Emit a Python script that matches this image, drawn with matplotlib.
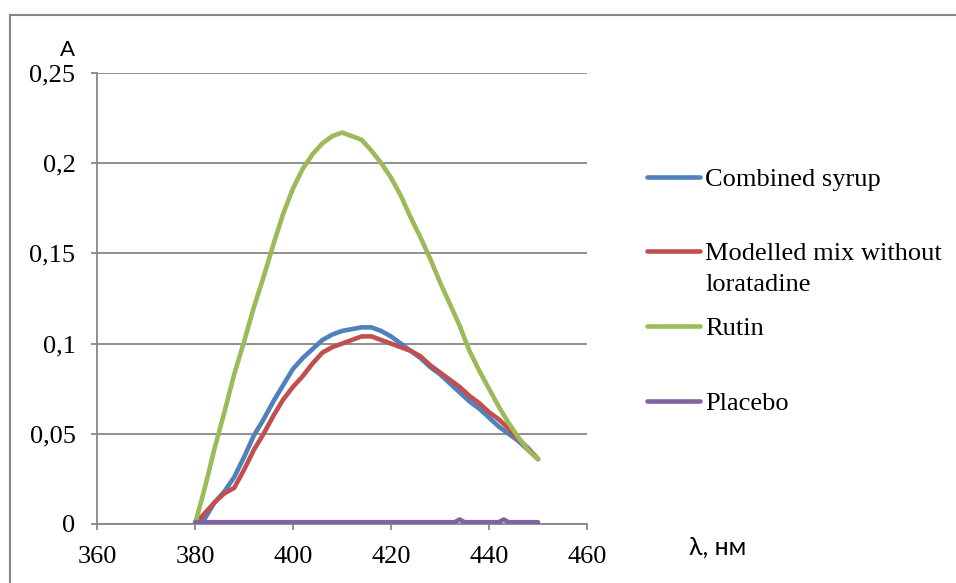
import matplotlib
matplotlib.use("Agg")
import matplotlib.pyplot as plt
from matplotlib.lines import Line2D

# ---- data ----
wl = [380, 382, 384, 386, 388, 390, 392, 394, 396, 398, 400, 402, 404, 406, 408,
      410, 412, 414, 416, 418, 420, 422, 424, 426, 428, 430, 432, 434, 436, 438,
      440, 442, 444, 446, 448, 450]
combined_syrup = [0.000, 0.003, 0.012, 0.018, 0.026, 0.037, 0.049, 0.058, 0.068, 0.077,
                  0.086, 0.092, 0.097, 0.102, 0.105, 0.107, 0.108, 0.109, 0.109, 0.107,
                  0.104, 0.100, 0.096, 0.092, 0.087, 0.083, 0.078, 0.073, 0.068, 0.064,
                  0.059, 0.054, 0.050, 0.046, 0.041, 0.036]
modelled_mix = [0.000, 0.006, 0.012, 0.017, 0.020, 0.030, 0.041, 0.050, 0.060, 0.069,
                0.076, 0.082, 0.089, 0.095, 0.098, 0.100, 0.102, 0.104, 0.104, 0.102,
                0.100, 0.098, 0.096, 0.093, 0.088, 0.084, 0.080, 0.076, 0.071, 0.067,
                0.062, 0.058, 0.053, 0.047, 0.042, 0.036]
rutin = [0.000, 0.020, 0.042, 0.062, 0.083, 0.101, 0.120, 0.137, 0.155, 0.172,
         0.186, 0.197, 0.205, 0.211, 0.215, 0.217, 0.215, 0.213, 0.207, 0.200,
         0.192, 0.182, 0.170, 0.159, 0.147, 0.134, 0.122, 0.110, 0.096, 0.085,
         0.075, 0.065, 0.056, 0.048, 0.041, 0.036]
wl_placebo = [380, 384, 388, 392, 396, 400, 404, 408, 412, 416, 420, 424, 428, 432,
              433, 434, 435, 440, 442, 443, 444, 450]
placebo = [0.001, 0.001, 0.001, 0.001, 0.001, 0.001, 0.001, 0.001, 0.001, 0.001,
           0.001, 0.001, 0.001, 0.001, 0.001, 0.0025, 0.001, 0.001, 0.001, 0.0025,
           0.001, 0.001]

series_names = ["Combined syrup", "Modelled mix without\nloratadine", "Rutin", "Placebo"]
colors = ["#4F81BD", "#C0504D", "#9BBB59", "#8064A2"]

x_ticks = [360, 380, 400, 420, 440, 460]
y_ticks = [0, 0.05, 0.1, 0.15, 0.2, 0.25]
y_tick_labels = ["0", "0,05", "0,1", "0,15", "0,2", "0,25"]

# ---- figure ----
W, H = 956, 583
fig = plt.figure(figsize=(W / 100, H / 100), dpi=100)
ax = fig.add_axes([97 / W, 1 - 524 / H, (587 - 97) / W, (524 - 73) / H])

grid_c = "#878787"
serif = ["Liberation Serif", "DejaVu Serif"]

lw = 3.3
ax.plot(wl, combined_syrup, color=colors[0], lw=lw, solid_capstyle="round", zorder=3)
ax.plot(wl, modelled_mix, color=colors[1], lw=lw, solid_capstyle="round", zorder=4)
ax.plot(wl, rutin, color=colors[2], lw=lw, solid_capstyle="round", zorder=5)
ax.plot(wl_placebo, placebo, color=colors[3], lw=lw, solid_capstyle="round", zorder=6)

ax.set_xlim(360, 460)
ax.set_ylim(0, 0.25)
ax.set_xticks(x_ticks)
ax.set_yticks(y_ticks)
ax.set_yticklabels(y_tick_labels)
ax.yaxis.grid(True, color=grid_c, lw=1.3)
ax.set_axisbelow(True)
for s in ["top", "right"]:
    ax.spines[s].set_visible(False)
for s in ["left", "bottom"]:
    ax.spines[s].set_color(grid_c)
    ax.spines[s].set_linewidth(1.3)
ax.tick_params(axis="both", direction="out", length=4.5, width=1.3, color=grid_c,
               labelsize=19)
ax.tick_params(axis="y", pad=11)
ax.tick_params(axis="x", pad=11)
for lab in ax.get_xticklabels() + ax.get_yticklabels():
    lab.set_family(serif)

# axis labels
fig.text(68 / W, 1 - 50 / H, "A", family=["Lato", "DejaVu Sans"], fontsize=16,
         ha="center", va="center")
fig.text(718 / W, 1 - 547 / H, "λ, нм", family=["Lato", "DejaVu Sans"], fontsize=18,
         ha="center", va="center")

# outer frame (top and left edges visible)
fig.add_artist(Line2D([10 / W, 1.0], [1 - 15 / H, 1 - 15 / H], color=grid_c, lw=1.5,
                      transform=fig.transFigure))
fig.add_artist(Line2D([10 / W, 10 / W], [1 - 15 / H, 0.0], color=grid_c, lw=1.5,
                      transform=fig.transFigure))

# legend
leg_y = [177, 251, 326, 401]
for name, c, yy in zip(series_names, colors, leg_y):
    fig.add_artist(Line2D([647 / W, 700 / W], [1 - yy / H, 1 - yy / H], color=c, lw=lw,
                          solid_capstyle="round", transform=fig.transFigure))
    fig.text(705 / W, 1 - (yy - 8) / H, name, family=serif, fontsize=19,
             ha="left", va="top", linespacing=1.55)

fig.savefig("out.png", dpi=100)
